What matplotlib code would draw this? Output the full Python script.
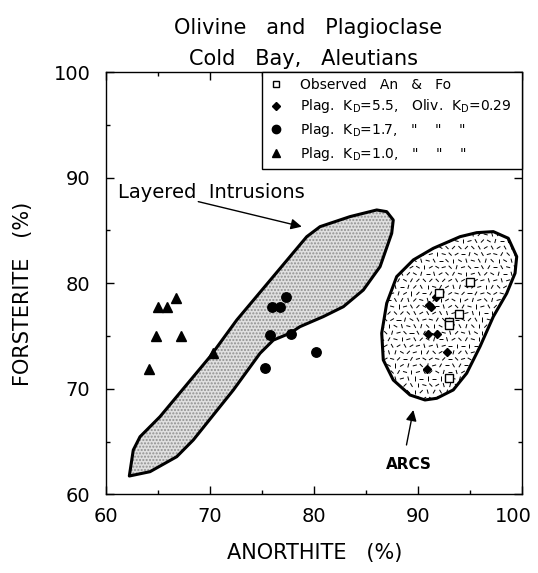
import numpy as np
import matplotlib
matplotlib.use("Agg")
import matplotlib.pyplot as plt
import matplotlib.transforms as mtransforms
from matplotlib.patches import Polygon
from matplotlib.collections import LineCollection
from matplotlib.lines import Line2D
from matplotlib.ticker import MultipleLocator

plt.rcParams['font.family'] = ['DejaVu Sans']
plt.rcParams['mathtext.fontset'] = 'dejavusans'
plt.rcParams['mathtext.default'] = 'regular'

# ---------------- data ----------------
obs_an = [95.0, 92.05, 93.97, 92.98, 92.98, 93.04]
obs_fo = [80.1, 79.05, 77.06, 76.36, 76.05, 71.06]

kd55_an = [91.76, 91.1, 91.3, 91.0, 91.88, 92.85, 90.87]
kd55_fo = [78.73, 77.9, 77.75, 75.2, 75.2, 73.49, 71.91]

kd17_an = [77.31, 76.02, 76.73, 75.80, 77.79, 80.19, 75.32]
kd17_fo = [78.67, 77.78, 77.78, 75.10, 75.17, 73.52, 71.95]

kd10_an = [66.73, 65.0, 65.89, 64.81, 67.24, 70.35, 64.16]
kd10_fo = [78.58, 77.73, 77.73, 75.01, 75.01, 73.37, 71.86]

layered_an = [62.27, 64.26, 66.83, 68.42, 72.27, 74.84, 76.12, 77.72, 78.68, 80.92,
              82.85, 84.77, 86.38, 87.50, 87.65, 87.02, 86.06, 83.49, 80.61, 79.33,
              72.60, 70.03, 65.22, 63.30, 62.65]
layered_fo = [61.75, 62.16, 63.58, 65.16, 69.89, 73.37, 74.62, 75.27, 75.89, 76.84,
              77.78, 79.36, 81.57, 84.73, 85.99, 86.78, 86.94, 86.31, 85.36, 84.41,
              76.52, 73.05, 67.37, 65.47, 64.21]

arcs_an = [97.27, 98.71, 99.52, 99.36, 98.56, 97.27, 95.99, 94.71, 93.42, 91.83,
           90.70, 89.26, 87.65, 86.69, 86.54, 87.02, 87.98, 89.58, 91.5, 94.07, 95.67]
arcs_fo = [84.89, 84.26, 82.52, 80.95, 79.05, 76.84, 74.0, 71.48, 69.90, 69.11,
           68.95, 69.42, 70.84, 72.74, 75.27, 78.11, 80.63, 82.21, 83.31, 84.41, 84.79]

legend_labels = ["Observed   An   &   Fo",
                 "Plag.  K$_D$=5.5,   Oliv.  K$_D$=0.29",
                 "Plag.  K$_D$=1.7,   \"    \"    \"",
                 "Plag.  K$_D$=1.0,   \"    \"    \""]

xticks = [60, 70, 80, 90, 100]
yticks = [60, 70, 80, 90, 100]

# ---------------- figure ----------------
fig = plt.figure(figsize=(5.38, 5.73), dpi=100)
ax = fig.add_axes([0.1965, 0.137, 0.7732, 0.7373])
ax.set_xlim(60, 100)
ax.set_ylim(60, 100)

# Layered intrusions band
lay_xy = np.column_stack([layered_an, layered_fo])
ax.add_patch(Polygon(lay_xy, closed=True, facecolor='#e0e0e0', edgecolor='none', zorder=1))
hp = Polygon(lay_xy, closed=True, facecolor='none', edgecolor='#909090', lw=0,
             hatch='.....', zorder=1.2)
ax.add_patch(hp)
ax.add_patch(Polygon(lay_xy, closed=True, facecolor='none', edgecolor='black',
                     lw=2.2, joinstyle='round', zorder=3))

# ARCS blob with short-dash texture
arc_xy = np.column_stack([arcs_an, arcs_fo])
arc_fill = Polygon(arc_xy, closed=True, facecolor='white', edgecolor='none', zorder=1)
ax.add_patch(arc_fill)
segs = []
step = 0.62
gx = np.arange(86.0, 100.0, step)
gy = np.arange(68.5, 85.5, step)
for j, yy in enumerate(gy):
    for i, xx in enumerate(gx):
        k = (i * 7 + j * 11 + (i * j) % 5) % 12
        ang = np.deg2rad(k * 15.0)
        off = 0.3 if j % 2 else 0.0
        cx, cy = xx + off, yy
        dx, dy = 0.2 * np.cos(ang), 0.2 * np.sin(ang)
        segs.append([(cx - dx, cy - dy), (cx + dx, cy + dy)])
lc = LineCollection(segs, colors='black', linewidths=0.7, zorder=1.5)
ax.add_collection(lc)
lc.set_clip_path(arc_fill)
ax.add_patch(Polygon(arc_xy, closed=True, facecolor='none', edgecolor='black',
                     lw=2.2, joinstyle='round', zorder=3))

# data points
ax.plot(kd10_an, kd10_fo, ls='none', marker='^', ms=6.5, color='black', zorder=4)
ax.plot(kd17_an, kd17_fo, ls='none', marker='o', ms=6.8, color='black', zorder=4)
ax.plot(kd55_an, kd55_fo, ls='none', marker='D', ms=4.0, color='black', zorder=4)
ax.plot(obs_an, obs_fo, ls='none', marker='s', ms=5.5, mfc='white', mec='black',
        mew=1.0, zorder=5)

# annotations
ax.text(61.18, 88.05, "Layered  Intrusions", fontsize=14, ha='left', va='baseline')
ax.annotate('', xy=(78.85, 85.36), xytext=(68.9, 87.73),
            arrowprops=dict(arrowstyle='-|>', color='black', lw=1.0,
                            mutation_scale=16, shrinkA=0, shrinkB=0))
ax.annotate('', xy=(89.58, 68.0), xytext=(88.92, 64.69),
            arrowprops=dict(arrowstyle='-|>', color='black', lw=1.0,
                            mutation_scale=16, shrinkA=0, shrinkB=0))
ax.text(89.16, 62.85, "ARCS", fontsize=11, fontweight='bold', ha='center', va='center')

# axes styling
ax.set_xticks(xticks)
ax.set_yticks(yticks)
ax.xaxis.set_minor_locator(MultipleLocator(5))
ax.yaxis.set_minor_locator(MultipleLocator(5))
ax.tick_params(which='both', direction='in', top=True, right=True, width=1.0,
               labelsize=14)
ax.tick_params(which='major', length=6)
ax.tick_params(which='minor', length=3)
ax.tick_params(axis='x', pad=9)
ax.tick_params(axis='y', pad=11)
for s in ax.spines.values():
    s.set_linewidth(1.0)

# nudge the last x tick label so it stays inside the figure
last = ax.get_xticklabels()[-1]
last.set_transform(last.get_transform() +
                   mtransforms.ScaledTranslation(-6 / 72, 0, fig.dpi_scale_trans))

ax.set_xlabel("ANORTHITE   (%)", fontsize=15)
ax.set_ylabel("FORSTERITE   (%)", fontsize=15)
ax.xaxis.set_label_coords(0.503, -0.115)
ax.yaxis.set_label_coords(-0.175, 0.475)

fig.text(0.572, 0.940, "Olivine   and   Plagioclase", fontsize=15, ha='center', va='baseline')
fig.text(0.565, 0.886, "Cold   Bay,   Aleutians", fontsize=15, ha='center', va='baseline')

# legend
handles = [Line2D([], [], ls='none', marker='s', ms=5, mfc='white', mec='black', mew=1.0),
           Line2D([], [], ls='none', marker='D', ms=3.8, color='black'),
           Line2D([], [], ls='none', marker='o', ms=6, color='black'),
           Line2D([], [], ls='none', marker='^', ms=6, color='black')]
leg = ax.legend(handles, legend_labels, loc='upper left',
                bbox_to_anchor=(0.376, 0.775, 0.624, 0.225), mode='expand',
                borderaxespad=0, fontsize=10, frameon=True, fancybox=False,
                edgecolor='black', framealpha=1, handlelength=1.2,
                handletextpad=1.1, labelspacing=0.42, borderpad=0.4)
leg.get_frame().set_linewidth(1.0)
leg.set_zorder(6)

fig.savefig("out.png", dpi=100)
